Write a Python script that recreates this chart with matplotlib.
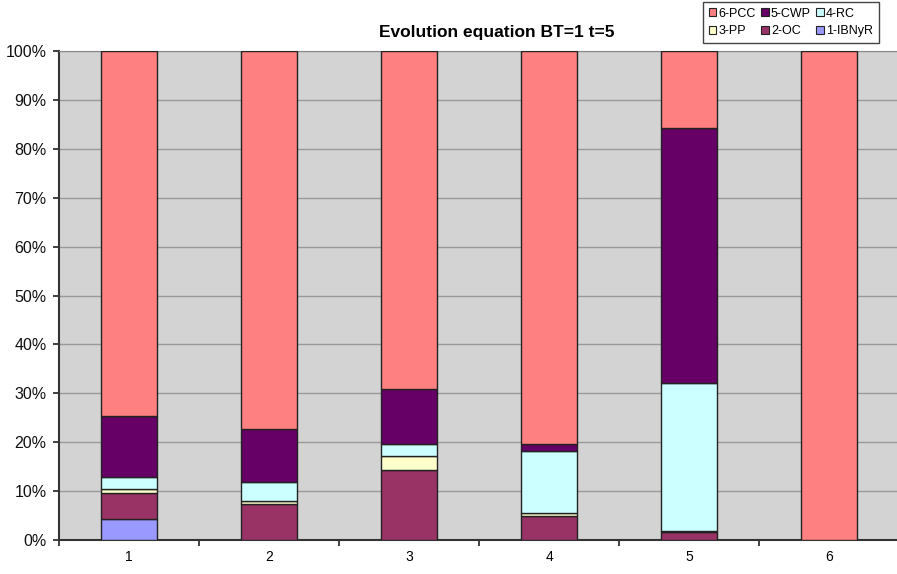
import matplotlib.pyplot as plt
from matplotlib.patches import Patch
from matplotlib.ticker import FuncFormatter

plt.rcParams['font.family'] = ['Liberation Sans', 'DejaVu Sans']

# share of each component per development period, in percent
periods = ['1', '2', '3', '4', '5', '6']
ibnyr = [4.3, 0.0, 0.0, 0.0, 0.0, 0.0]
oc = [5.3, 7.4, 14.3, 4.9, 1.6, 0.0]
pp = [0.8, 0.6, 2.9, 0.6, 0.3, 0.0]
rc = [2.5, 3.9, 2.4, 12.7, 30.2, 0.0]
cwp = [12.5, 10.8, 11.3, 1.4, 52.2, 0.0]
pcc = [74.6, 77.3, 69.1, 80.4, 15.7, 100.0]

series = [
    ('1-IBNyR', ibnyr, '#9999FF'),
    ('2-OC', oc, '#993366'),
    ('3-PP', pp, '#FFFFCC'),
    ('4-RC', rc, '#CCFFFF'),
    ('5-CWP', cwp, '#660066'),
    ('6-PCC', pcc, '#FF8080'),
]

fig = plt.figure(figsize=(8.97, 5.74), dpi=100)
ax = fig.add_axes([59 / 897, 34 / 574, 840 / 897, 489 / 574])
ax.set_facecolor('#D3D3D3')

x = list(range(1, len(periods) + 1))
bottom = [0.0] * len(periods)
handles = {}
for name, vals, col in series:
    ax.bar(x, vals, width=0.4, bottom=bottom, color=col,
           edgecolor='#222222', linewidth=1.0, zorder=3)
    handles[name] = Patch(facecolor=col, edgecolor='#222222', linewidth=0.8)
    bottom = [p + v for p, v in zip(bottom, vals)]

ax.set_xlim(0.5, len(periods) + 0.5)
ax.set_ylim(0, 100)
ax.set_yticks(range(0, 101, 10))
ax.yaxis.set_major_formatter(FuncFormatter(lambda v, _: f'{int(v)}%'))
ax.grid(axis='y', color='#9A9A9A', linewidth=1.0, zorder=1)

# category boundaries carry the tick marks, labels sit in the middle
ax.set_xticks([i + 0.5 for i in range(0, len(periods) + 1)])
ax.set_xticklabels([])
ax.set_xticks(x, minor=True)
ax.set_xticklabels(periods, minor=True)
ax.tick_params(axis='x', which='minor', length=0, pad=7)
ax.tick_params(axis='x', which='major', length=4, width=1.2, color='#222222')
ax.tick_params(axis='y', length=4, width=1.2, color='#222222', pad=5)
ax.tick_params(labelsize=11.5, labelcolor='#111111')

for side in ['left', 'bottom']:
    ax.spines[side].set_color('#333333')
    ax.spines[side].set_linewidth(1.5)
for side in ['top', 'right']:
    ax.spines[side].set_color('#8A8A8A')

fig.text(497 / 897, 1 - 33 / 574, 'Evolution equation BT=1 t=5',
         ha='center', va='center', fontsize=12.5, fontweight='bold')

order = ['6-PCC', '3-PP', '5-CWP', '2-OC', '4-RC', '1-IBNyR']
leg = fig.legend([handles[n] for n in order], order, ncol=3,
                 loc='upper left', bbox_to_anchor=(703 / 897, 1 - 2 / 574),
                 borderaxespad=0, fontsize=9, handlelength=0.6,
                 handleheight=0.6, handletextpad=0.2, columnspacing=0.4,
                 labelspacing=0.45, borderpad=0.45, fancybox=False,
                 framealpha=1)
leg.get_frame().set_edgecolor('#444444')
leg.get_frame().set_linewidth(1.0)

fig.savefig('out.png', dpi=100)
